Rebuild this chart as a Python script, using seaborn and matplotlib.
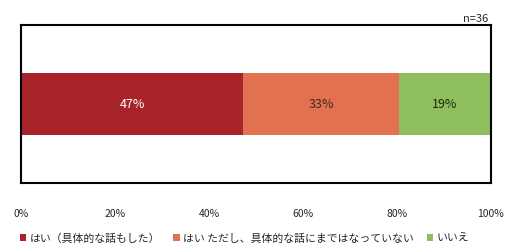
import numpy as np
import matplotlib
matplotlib.use("Agg")
import matplotlib.pyplot as plt
import seaborn as sns
import pandas as pd

categorias = ["はい（具体的な話もした）", "はい ただし、具体的な話にまではなっていない", "いいえ"]
valores = [47.2, 33.3, 19.4]
rotulos = ["47%", "33%", "19%"]
cores = ["#A8242A", "#E2714F", "#8FBE5C"]
cores_texto = ["white", "#3a2a20", "#1e2a10"]
n_texto = "n=36"

sns.set_style("white")
plt.rcParams["font.family"] = ["Noto Sans CJK JP", "DejaVu Sans"]

fig = plt.figure(figsize=(5.05, 2.46), dpi=100)
ax = fig.add_axes([0.042, 0.256, 0.930, 0.642])

acumulado = np.cumsum(valores)
inicio = acumulado - np.array(valores)

# barras empilhadas: desenha do maior acumulado para o menor
for i in reversed(range(len(valores))):
    df = pd.DataFrame({"valor": [acumulado[i]], "grupo": [""]})
    sns.barplot(data=df, x="valor", y="grupo", color=cores[i], width=0.39,
                saturation=1, ax=ax, label=categorias[i], orient="h", linewidth=0)

for i in range(len(valores)):
    ax.text(inicio[i] + valores[i] / 2, 0, rotulos[i], ha="center", va="center",
            fontsize=9, color=cores_texto[i])

ax.set_xlim(0, 100)
ax.set_ylim(0.5, -0.5)
ax.set_xticks(np.arange(0, 101, 20))
ax.set_xticklabels([f"{t}%" for t in range(0, 101, 20)], fontsize=7.5)
ax.tick_params(axis="x", length=0, pad=19)
ax.set_yticks([])
ax.set_xlabel("")
ax.set_ylabel("")
for s in ax.spines.values():
    s.set_color("black")
    s.set_linewidth(1.5)

ax.text(0.995, 1.01, n_texto, transform=ax.transAxes, ha="right", va="bottom", fontsize=8)

handles, labels = ax.get_legend_handles_labels()
ordem = [labels.index(c) for c in categorias]
leg = fig.legend([handles[k] for k in ordem], [labels[k] for k in ordem],
                 loc="lower left", bbox_to_anchor=(0.02, -0.03), ncol=3, frameon=False,
                 fontsize=7.8, handlelength=0.6, handleheight=0.6, handletextpad=0.3,
                 columnspacing=1.2)
if ax.get_legend():
    ax.get_legend().remove()

fig.savefig("out.png", dpi=100)
